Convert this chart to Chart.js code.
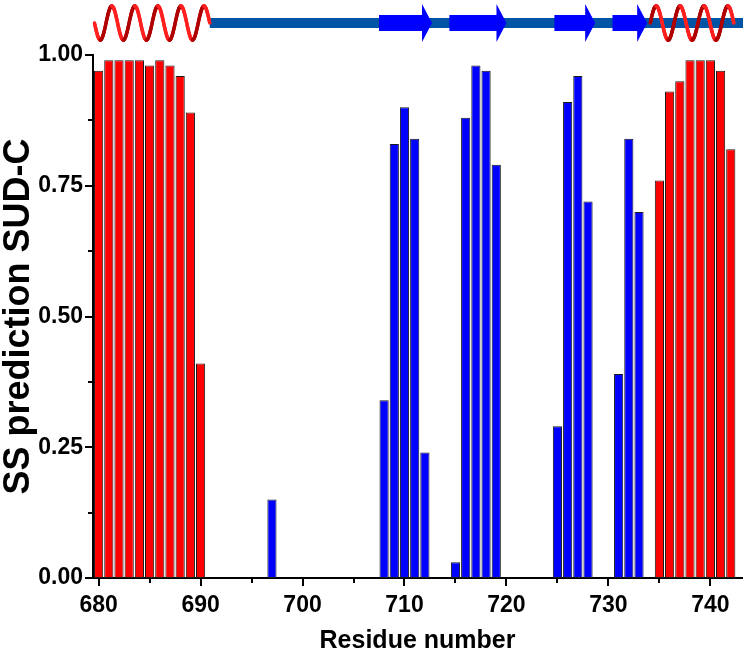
<!DOCTYPE html>
<html>
<head>
<meta charset="utf-8">
<script src="https://cdn.jsdelivr.net/npm/chart.js@4/dist/chart.umd.min.js"></script>
<style>
  body { margin: 0; background: #fff; }
  #wrap { width: 749px; height: 660px; }
</style>
</head>
<body>
<div id="wrap"><canvas id="ssChart" width="749" height="660"></canvas></div>
<script>
// residues predicted as helix (red) and strand (blue)
var helixRes = [680, 681, 682, 683, 684, 685, 686, 687, 688, 689, 690,
                735, 736, 737, 738, 739, 740, 741, 742];
var helixProb = [0.97, 0.99, 0.99, 0.99, 0.99, 0.98, 0.99, 0.98, 0.96, 0.89, 0.41,
                 0.76, 0.93, 0.95, 0.99, 0.99, 0.99, 0.97, 0.82];

var strandRes = [697, 708, 709, 710, 711, 712, 715, 716, 717, 718, 719,
                 725, 726, 727, 728, 731, 732, 733];
var strandProb = [0.15, 0.34, 0.83, 0.90, 0.84, 0.24, 0.03, 0.88, 0.98, 0.97, 0.79,
                  0.29, 0.91, 0.96, 0.72, 0.39, 0.84, 0.70];

// axis ticks
var xTicks = [680, 690, 700, 710, 720, 730, 740];
var xMinor = [685, 695, 705, 715, 725, 735];
var yTicks = [0, 0.25, 0.5, 0.75, 1];
var yMinor = [0.125, 0.375, 0.625, 0.875];

// secondary structure cartoon on top (residue ranges)
var helixSpans = [[679.6, 690.9], [734.1, 742.3]];
var helixTurns = [5, 3.5];
var strandSpans = [[707.5, 712.7], [714.4, 720.0], [724.7, 728.7], [730.4, 733.8]];
var coilSpan = [690.9, 743.2];

var toPoints = function (xs, ys) {
    return xs.map(function (x, i) { return { x: x, y: ys[i] }; });
};

var tickFont = { family: 'Liberation Sans', size: 23, weight: 'bold' };

// draws the cartoon and the major/minor tick marks
var decorPlugin = {
    id: 'decor',
    afterDraw: function (chart) {
        var ctx = chart.ctx;
        var xs = chart.scales.x, ys = chart.scales.y;
        var area = chart.chartArea;
        ctx.save();

        // tick marks
        ctx.strokeStyle = '#000';
        ctx.lineWidth = 2;
        ctx.beginPath();
        xTicks.forEach(function (v) {
            var p = Math.round(xs.getPixelForValue(v));
            ctx.moveTo(p, area.bottom); ctx.lineTo(p, area.bottom + 8);
        });
        xMinor.forEach(function (v) {
            var p = Math.round(xs.getPixelForValue(v));
            ctx.moveTo(p, area.bottom); ctx.lineTo(p, area.bottom + 5);
        });
        yTicks.forEach(function (v) {
            var p = Math.round(ys.getPixelForValue(v));
            ctx.moveTo(area.left, p); ctx.lineTo(area.left - 8, p);
        });
        yMinor.forEach(function (v) {
            var p = Math.round(ys.getPixelForValue(v));
            ctx.moveTo(area.left, p); ctx.lineTo(area.left - 5, p);
        });
        ctx.stroke();

        // coil line
        var cy = 23;
        ctx.fillStyle = '#0054a6';
        var c1 = xs.getPixelForValue(coilSpan[0]), c2 = xs.getPixelForValue(coilSpan[1]);
        ctx.fillRect(c1, cy - 5, c2 - c1, 10);

        // strands
        ctx.fillStyle = '#0000ff';
        strandSpans.forEach(function (s) {
            var a = xs.getPixelForValue(s[0]), b = xs.getPixelForValue(s[1]);
            var h = b - 10;
            ctx.beginPath();
            ctx.moveTo(a, cy - 8);
            ctx.lineTo(h, cy - 8);
            ctx.lineTo(h, cy - 19);
            ctx.lineTo(b, cy);
            ctx.lineTo(h, cy + 19);
            ctx.lineTo(h, cy + 8);
            ctx.lineTo(a, cy + 8);
            ctx.closePath();
            ctx.fill();
        });

        // helices
        ctx.lineWidth = 3.5;
        ctx.lineCap = 'round';
        helixSpans.forEach(function (s, k) {
            var a = xs.getPixelForValue(s[0]), b = xs.getPixelForValue(s[1]);
            var turns = helixTurns[k];
            var sign = k === 0 ? 1 : -1;
            var n = 300, prevX = a, prevY = cy;
            for (var i = 1; i <= n; i++) {
                var t = i / n;
                var px = a + (b - a) * t;
                var py = cy + sign * 17 * Math.sin(2 * Math.PI * turns * t);
                ctx.strokeStyle = py < prevY ? '#b00000' : '#ff2020';
                ctx.beginPath();
                ctx.moveTo(prevX, prevY);
                ctx.lineTo(px, py);
                ctx.stroke();
                prevX = px; prevY = py;
            }
        });
        ctx.restore();
    }
};

var ctx = document.getElementById('ssChart').getContext('2d');
var ssChart = new Chart(ctx, {
    type: 'bar',
    data: {
        datasets: [{
            label: 'Helix',
            data: toPoints(helixRes, helixProb),
            backgroundColor: '#ff0000',
            borderColor: '#1a1a1a',
            borderWidth: 1,
            borderSkipped: false
        }, {
            label: 'Strand',
            data: toPoints(strandRes, strandProb),
            backgroundColor: '#0000ff',
            borderColor: '#1a1a1a',
            borderWidth: 1,
            borderSkipped: false
        }]
    },
    options: {
        responsive: false,
        animation: false,
        grouped: false,
        barPercentage: 0.9,
        categoryPercentage: 1,
        layout: { padding: { top: 55, right: 7, left: 0, bottom: 0 } },
        plugins: {
            legend: { display: false },
            tooltip: { enabled: false }
        },
        scales: {
            x: {
                type: 'linear',
                offset: false,
                min: 679.45,
                max: 743.1,
                grid: { display: false, drawTicks: false, offset: false },
                border: { display: true, color: '#000', width: 2 },
                afterBuildTicks: function (scale) {
                    scale.ticks = xTicks.map(function (v) { return { value: v }; });
                },
                afterFit: function (scale) { scale.height = 82; },
                ticks: {
                    autoSkip: false,
                    maxRotation: 0,
                    padding: 14,
                    color: '#000',
                    font: tickFont,
                    callback: function (v) { return String(v); }
                },
                title: {
                    display: true,
                    text: 'Residue number',
                    color: '#000',
                    font: { family: 'Liberation Sans', size: 25, weight: 'bold' },
                    padding: { top: 0, bottom: 4 }
                }
            },
            y: {
                min: 0,
                max: 1,
                grid: { display: false, drawTicks: false },
                border: { display: true, color: '#000', width: 2 },
                afterBuildTicks: function (scale) {
                    scale.ticks = yTicks.map(function (v) { return { value: v }; });
                },
                afterFit: function (scale) { scale.width = 93; },
                ticks: {
                    padding: 10,
                    color: '#000',
                    font: tickFont,
                    callback: function (v) { return v.toFixed(2); }
                },
                title: {
                    display: true,
                    text: 'SS prediction SUD-C',
                    color: '#000',
                    font: { family: 'Liberation Sans', size: 36, weight: 'bold' },
                    padding: { top: -3, bottom: 0 }
                }
            }
        }
    },
    plugins: [decorPlugin]
});
</script>
</body>
</html>
